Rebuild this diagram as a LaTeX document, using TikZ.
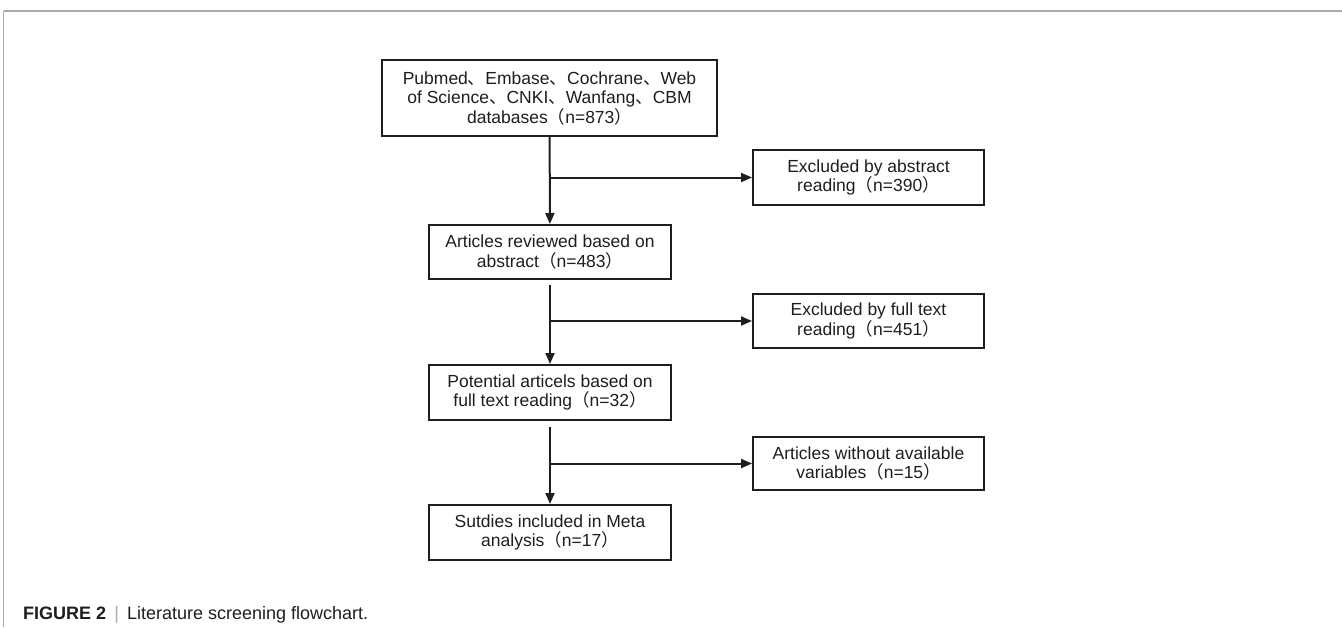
\documentclass[tikz,border=0pt]{standalone}
\usepackage{fontspec}
\setmainfont{Liberation Sans}
\newfontfamily\cjk{Noto Sans CJK SC}
\usetikzlibrary{arrows.meta,positioning}
\definecolor{frame}{RGB}{170,170,170}
\definecolor{ink}{RGB}{30,30,30}
\newcommand{\dun}{{\cjk 、}}
\newcommand{\zlp}{{\cjk （}}
\newcommand{\zrp}{{\cjk ）}}

\begin{document}
\begin{tikzpicture}[x=1pt,y=1pt,
  box/.style={draw,ink,line width=2pt,align=center,inner sep=0pt,text=ink,
    font=\fontsize{17.5}{19.5}\selectfont},
  lbox/.style={box,minimum width=242pt,minimum height=54pt},
  rbox/.style={box,minimum width=231pt,minimum height=54pt},
  arr/.style={ink,line width=2pt,-{Triangle[length=11pt,width=9pt]}}]
\useasboundingbox (0,0) rectangle (1342,-627);
% frame
\draw[frame,line width=2pt] (3.5,-10.5) -- (1342,-10.5);
\draw[frame,line width=1pt] (3.5,-10.5) -- (3.5,-627);
% boxes
\node[box,minimum width=335pt,minimum height=76pt] (db) at (549.5,-98)
  {Pubmed\dun Embase\dun Cochrane\dun Web\\ of Science\dun CNKI\dun Wanfang\dun CBM\\ databases\zlp n=873\zrp};
\node[lbox] (rev) at (550,-252) {Articles reviewed based on\\ abstract\zlp n=483\zrp};
\node[lbox,minimum height=55pt] (pot) at (550,-392.5) {Potential articels based on\\ full text reading\zlp n=32\zrp};
\node[lbox,minimum height=55pt] (incl) at (550,-532.5) {Sutdies included in Meta\\ analysis\zlp n=17\zrp};
\node[rbox,minimum height=55pt] (exab) at (868.5,-177.5) {Excluded by abstract\\ reading\zlp n=390\zrp};
\node[rbox] (exft) at (868.5,-321) {Excluded by full text\\ reading\zlp n=451\zrp};
\node[rbox,minimum height=53pt] (novar) at (868.5,-463.5) {Articles without available\\ variables\zlp n=15\zrp};
% connectors
\draw[arr] (db) -- (rev);
\draw[arr,shorten <=5pt] (rev) -- (pot);
\draw[arr,shorten <=6pt] (pot) -- (incl);
\foreach \a/\b in {db/exab,rev/exft,pot/novar}{
  \coordinate (j\b) at (\a.south |- \b.west);
  \draw[arr] (j\b) -- (\b.west);}
% caption
\node[anchor=base west,inner sep=0pt,text=ink,font=\fontsize{18}{20}\selectfont] (cap) at (23,-619)
  {\textbf{FIGURE 2}\hspace{0.45em}{\color{frame}|}\hspace{0.45em}Literature screening flowchart.};
\end{tikzpicture}
\end{document}
